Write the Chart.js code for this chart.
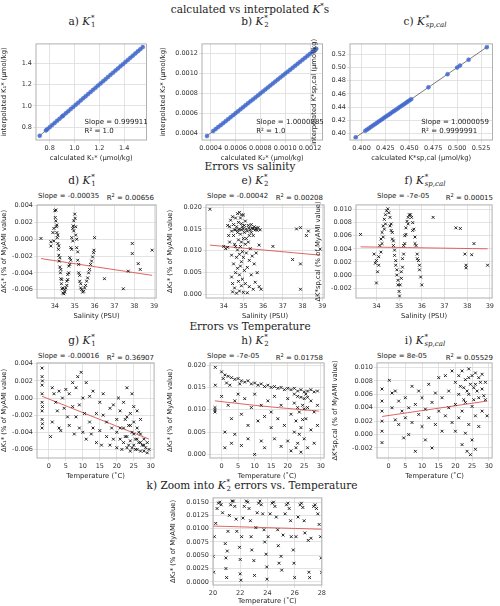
<!DOCTYPE html>
<html lang="en">
<head>
<meta charset="UTF-8">
<title>K* interpolation errors</title>
<script src="https://cdn.jsdelivr.net/npm/chart.js"></script>
<style>
    body { margin: 0; background: #fff; }
    #page { position: relative; width: 500px; height: 606px; overflow: hidden; font-family: 'DejaVu Serif', 'Liberation Serif', serif; }
    .ttl { position: absolute; font-size: 10.5px; color: #222; white-space: nowrap; transform: translateX(-50%); }
    .sub { position: absolute; font-size: 10.5px; color: #222; white-space: nowrap; transform: translateX(-50%); }
    .ss { display: inline-flex; flex-direction: column; vertical-align: middle; font-size: 7px; line-height: 7px; margin-left: 1px; }
    .stat { position: absolute; display: flex; justify-content: space-between; font-family: 'DejaVu Sans', sans-serif; font-size: 7px; color: #222; white-space: nowrap; }
    .box { position: absolute; }
</style>
</head>
<body>
<div id="page">
    <div class="ttl" style="left:250px;top:2px">calculated vs interpolated <i>K</i><sup style="font-size:7px">*</sup>s</div>
    <div class="sub" style="left:82px;top:15px">a) <i>K</i><span class="ss"><span>*</span><span>1</span></span></div>
    <div class="sub" style="left:255px;top:15px">b) <i>K</i><span class="ss"><span>*</span><span>2</span></span></div>
    <div class="sub" style="left:425px;top:15px">c) <i>K</i><span class="ss"><span>*</span><span><i>sp,cal</i></span></span></div>

    <div class="ttl" style="left:250px;top:160px">Errors vs salinity</div>
    <div class="sub" style="left:82px;top:174px">d) <i>K</i><span class="ss"><span>*</span><span>1</span></span></div>
    <div class="sub" style="left:255px;top:174px">e) <i>K</i><span class="ss"><span>*</span><span>2</span></span></div>
    <div class="sub" style="left:425px;top:174px">f) <i>K</i><span class="ss"><span>*</span><span><i>sp,cal</i></span></span></div>
    <div class="stat" style="left:38px;top:192px;width:116px"><span>Slope = -0.00035</span><span>R<sup style="font-size:5px">2</sup> = 0.00656</span></div>
    <div class="stat" style="left:207px;top:192px;width:116px"><span>Slope = -0.00042</span><span>R<sup style="font-size:5px">2</sup> = 0.00208</span></div>
    <div class="stat" style="left:377px;top:192px;width:116px"><span>Slope = -7e-05</span><span>R<sup style="font-size:5px">2</sup> = 0.00015</span></div>

    <div class="ttl" style="left:250px;top:320px">Errors vs Temperature</div>
    <div class="sub" style="left:82px;top:334px">g) <i>K</i><span class="ss"><span>*</span><span>1</span></span></div>
    <div class="sub" style="left:255px;top:334px">h) <i>K</i><span class="ss"><span>*</span><span>2</span></span></div>
    <div class="sub" style="left:425px;top:334px">i) <i>K</i><span class="ss"><span>*</span><span><i>sp,cal</i></span></span></div>
    <div class="stat" style="left:38px;top:352px;width:116px"><span>Slope = -0.00016</span><span>R<sup style="font-size:5px">2</sup> = 0.36907</span></div>
    <div class="stat" style="left:207px;top:352px;width:116px"><span>Slope = -7e-05</span><span>R<sup style="font-size:5px">2</sup> = 0.01758</span></div>
    <div class="stat" style="left:377px;top:352px;width:116px"><span>Slope = 8e-05</span><span>R<sup style="font-size:5px">2</sup> = 0.05529</span></div>

    <div class="ttl" style="left:252px;top:479px">k) Zoom into <i>K</i><span class="ss"><span>*</span><span>2</span></span> errors vs. Temperature</div>
</div>

<script>
// ---------- row 1: calculated vs interpolated ----------
const aCalc = [0.72,0.77,0.78,0.8,0.82,0.84,0.86,0.88,0.9,0.91,0.93,0.95,0.97,0.99,1.01,1.03,1.05,1.07,1.09,1.11,1.13,1.15,1.17,1.19,1.21,1.23,1.25,1.27,1.29,1.31,1.33,1.35,1.37,1.39,1.41,1.43,1.45,1.47,1.49,1.51,1.53,1.55];
const aInterp = [0.72,0.77,0.78,0.8,0.82,0.84,0.86,0.88,0.9,0.91,0.93,0.95,0.97,0.99,1.01,1.03,1.05,1.07,1.09,1.11,1.13,1.15,1.17,1.19,1.21,1.23,1.25,1.27,1.29,1.31,1.33,1.35,1.37,1.39,1.41,1.43,1.45,1.47,1.49,1.51,1.53,1.55];
const bCalc = [0.00037,0.00042,0.00044,0.00046,0.00048,0.0005,0.00052,0.00054,0.00056,0.00058,0.0006,0.00062,0.00064,0.00066,0.00068,0.0007,0.00072,0.00074,0.00076,0.00078,0.0008,0.00082,0.00084,0.00086,0.00088,0.0009,0.00092,0.00094,0.00096,0.00098,0.001,0.00102,0.00104,0.00106,0.00108,0.0011,0.00112,0.00114,0.00116,0.00118,0.0012,0.00122,0.00124,0.00125];
const bInterp = [0.00037,0.00042,0.00044,0.00046,0.00048,0.0005,0.00052,0.00054,0.00056,0.00058,0.0006,0.00062,0.00064,0.00066,0.00068,0.0007,0.00072,0.00074,0.00076,0.00078,0.0008,0.00082,0.00084,0.00086,0.00088,0.0009,0.00092,0.00094,0.00096,0.00098,0.001,0.00102,0.00104,0.00106,0.00108,0.0011,0.00112,0.00114,0.00116,0.00118,0.0012,0.00122,0.00124,0.00125];
const cCalc = [0.394,0.404,0.406,0.408,0.41,0.412,0.414,0.416,0.418,0.42,0.422,0.424,0.426,0.428,0.43,0.432,0.434,0.436,0.438,0.44,0.442,0.444,0.446,0.448,0.45,0.452,0.47,0.49,0.5,0.503,0.512,0.531];
const cInterp = [0.394,0.404,0.406,0.408,0.41,0.412,0.414,0.416,0.418,0.42,0.422,0.424,0.426,0.428,0.43,0.432,0.434,0.436,0.438,0.44,0.442,0.444,0.446,0.448,0.45,0.452,0.47,0.49,0.5,0.503,0.512,0.531];
const aOneToOne = [[0.71, 0.71], [1.56, 1.56]];
const bOneToOne = [[0.00036, 0.00036], [0.00126, 0.00126]];
const cOneToOne = [[0.392, 0.392], [0.533, 0.533]];

// ---------- row 2: errors vs salinity ----------
const dK1Sal = [[33.3,0.0001],[33.8,-0.0003],[33.8,-0.0008],[33.9,0.0008],[33.95,0.0013],[33.95,-0.0002],
  [34.0,0.0034],[34.02,0.0026],[34.05,0.0022],[34.08,0.0015],[34.1,0.0008],[34.12,0.0002],[34.15,-0.0005],[34.18,-0.0012],[34.2,-0.0019],[34.22,-0.0026],[34.25,-0.0033],[34.28,-0.004],[34.3,-0.0047],[34.33,-0.0053],[34.36,-0.0059],[34.4,-0.0064],[34.45,-0.0065],
  [34.05,0.0035],[34.1,0.0017],[34.15,0.0005],[34.2,-0.0008],[34.25,-0.0022],[34.3,-0.0036],[34.35,-0.0048],[34.4,-0.0058],
  [34.5,-0.0063],[34.55,-0.0058],[34.6,-0.005],[34.65,-0.0042],[34.7,-0.0032],[34.75,-0.0022],[34.8,-0.001],[34.85,0.0002],[34.9,0.0013],[34.95,0.0022],[35.0,0.003],
  [34.6,-0.0055],[34.7,-0.004],[34.8,-0.0025],[34.9,-0.0002],[34.95,0.001],[34.5,-0.006],[34.65,-0.0048],[34.75,-0.003],[34.85,-0.0012],[34.92,0.0016],
  [35.02,0.0025],[35.05,0.0015],[35.1,0.0],[35.15,-0.0015],[35.2,-0.003],[35.25,-0.0043],[35.3,-0.0053],[35.35,-0.006],[35.4,-0.0063],
  [35.05,0.0005],[35.1,-0.001],[35.15,-0.0025],[35.2,-0.004],[35.25,-0.005],[35.3,-0.0058],
  [35.45,-0.0062],[35.5,-0.0058],[35.6,-0.005],[35.7,-0.004],[35.8,-0.003],[35.9,-0.0021],[35.97,-0.0013],[35.55,-0.0055],[35.65,-0.0046],[35.75,-0.0036],[35.85,-0.0026],[35.95,-0.0016],
  [36.0,0.0002],[36.5,-0.0047],[37.45,-0.0059],[37.7,-0.0038],[37.9,-0.0005],[37.9,-0.0017],[38.2,-0.0029],[38.3,-0.0036],[38.9,-0.0013]];
const dFit = [[33.3,-0.0023],[38.9,-0.0043]];

const eK2Sal = [[33.3,0.0195],[34.0,0.011],[34.1,0.0105],[34.2,0.0108],[34.3,0.0155],[34.3,0.012],[34.35,0.017],[34.4,0.0145],[34.4,0.009],[34.4,0.004],[34.45,0.0025],[34.45,0.0006],[34.5,0.016],[34.5,0.0135],[34.5,0.007],[34.55,0.0148],[34.55,0.0015],[34.6,0.0175],[34.6,0.011],[34.6,0.005],[34.65,0.0155],[34.65,0.0085],[34.65,0.0003],[34.7,0.0185],[34.7,0.0142],[34.7,0.0102],[34.7,0.006],[34.75,0.0165],[34.75,0.0125],[34.75,0.003],[34.8,0.0188],[34.8,0.015],[34.8,0.0092],[34.8,0.0045],[34.8,0.0008],[34.85,0.0175],[34.85,0.0138],[34.85,0.011],[34.85,0.0065],[34.9,0.0162],[34.9,0.0148],[34.9,0.012],[34.9,0.0075],[34.9,0.002],[34.95,0.0155],[34.95,0.0098],[34.95,0.0035],[35.0,0.0182],[35.0,0.015],[35.0,0.0128],[35.0,0.0085],[35.0,0.0005],[35.05,0.0142],[35.05,0.0055],[35.1,0.0168],[35.1,0.0115],[35.1,0.0025],[35.15,0.015],[35.15,0.0095],[35.2,0.0145],[35.2,0.0062],[35.2,0.0004],[35.25,0.0158],[35.25,0.012],[35.3,0.0152],[35.3,0.0078],[35.3,0.0018],[35.35,0.0148],[35.35,0.0105],[35.4,0.016],[35.4,0.0045],[35.45,0.0152],[35.45,0.0088],[35.5,0.0135],[35.5,0.0012],[35.55,0.0155],[35.55,0.007],[35.6,0.0148],[35.6,0.0028],[35.65,0.0152],[35.65,0.0095],[35.7,0.0147],[35.7,0.005],[35.75,0.0153],[35.8,0.0113],[35.8,0.0018],[35.85,0.0148],[35.9,0.0012],
  [34.2,0.0158],[34.25,0.0135],[34.45,0.0178],[34.55,0.0115],[34.6,0.0148],[34.75,0.0148],[34.9,0.0182],[35.05,0.0158],[35.15,0.0128],[35.3,0.0135],[35.4,0.0142],[35.5,0.015],
  [36.5,0.011],[37.5,0.008],[37.7,0.015],[37.9,0.0153],[37.9,0.007],[37.9,0.0012],[38.2,0.0135],[38.3,0.0145],[38.9,0.0104]];
const eFit = [[33.3,0.0113],[38.9,0.009]];

const fKspSal = [[33.3,0.0062],[33.9,0.0032],[33.95,0.0018],[34.0,-0.0012],[34.0,0.0022],[34.05,0.0005],[34.1,0.0028],[34.15,0.0045],[34.2,0.0055],[34.25,0.0065],[34.3,0.0075],[34.35,0.0085],[34.4,0.0092],[34.45,0.0098],[34.5,0.0101],[34.2,0.0035],[34.3,0.0058],[34.4,0.0078],[34.1,0.0015],[34.25,0.0048],[34.35,0.007],
  [34.55,0.0095],[34.6,0.0088],[34.65,0.0078],[34.7,0.0065],[34.75,0.0052],[34.8,0.0038],[34.85,0.0022],[34.9,0.0008],[34.95,-0.0008],[35.0,-0.0025],[35.02,-0.0032],[34.6,0.0075],[34.7,0.0055],[34.8,0.003],[34.9,0.0],[34.65,0.0068],[34.75,0.0045],[34.85,0.0015],[34.95,-0.0015],
  [35.05,-0.0015],[35.1,0.0005],[35.15,0.0025],[35.2,0.0045],[35.25,0.006],[35.3,0.0072],[35.35,0.0082],[35.4,0.0088],[35.45,0.0092],[35.5,0.0092],[35.1,-0.0005],[35.2,0.0032],[35.3,0.0062],[35.4,0.0078],[35.15,0.0012],[35.25,0.0048],
  [35.55,0.0088],[35.6,0.008],[35.65,0.007],[35.7,0.0058],[35.75,0.0045],[35.8,0.0032],[35.85,0.0022],[35.9,0.0008],[35.95,-0.0003],[36.0,-0.0015],[35.6,0.0068],[35.7,0.0048],[35.8,0.0025],[35.9,0.0015],
  [36.5,0.0088],[37.5,0.0072],[37.7,0.0071],[37.9,0.0032],[37.95,0.0015],[37.95,0.0011],[38.2,0.0031],[38.3,0.0048],[38.9,0.0015]];
const fFit = [[33.3,0.0043],[38.9,0.004]];

// ---------- row 3: errors vs temperature ----------
const gK1Temp = [[-2,0.0035],[-2,0.0025],[-2,0.0015],[-2,0.0005],[-2,-0.0005],[-2,-0.0015],[-2,-0.0025],[-2,-0.0035],[-1.9,0.002],[-1.9,-0.001],[-1.9,-0.003],
  [1,0.0012],[1.5,0.0005],[2,-0.0005],[1,-0.0028],[0.5,-0.0045],[2.5,-0.0015],[3,0.0008],[3,-0.0035],[3.5,-0.0038],[4,0.0],[4.5,-0.0012],[5,0.001],[5.5,-0.0022],[6,0.0005],[6,-0.0032],[7,0.0018],[7,-0.001],[7.5,-0.0042],[8,0.0012],[8,-0.0022],[8.5,0.0025],[9,-0.0008],[9,-0.0035],[9.5,0.003],[10,0.0],[10,-0.004],[10.5,-0.0018],[11,0.0018],[11,-0.0048],[12,-0.0028],[12,0.0002],[12.5,-0.0042],[13,0.0008],[13,-0.0035],[14,-0.0018],[14,-0.0052],[15,-0.0005],[15,-0.0038],[15.5,-0.0055],[16,-0.002],[16,0.0005],[17,-0.0045],[17,-0.0028],[18,-0.0012],[18,-0.0055],[18.5,-0.0035],[19,-0.0048],[19,-0.0008],[20,-0.0025],[20,-0.0058],[20,-0.004],[20.5,0.0],[21,-0.0048],[21,-0.0015],[21.5,-0.006],[22,-0.0035],[22,-0.0052],[22,-0.0005],[22.5,-0.0025],[23,-0.0045],[23,-0.0058],[23,0.0012],[23.5,-0.0032],[24,-0.005],[24,-0.0018],[24,-0.0062],[24.5,0.0005],[24.5,-0.004],[25,-0.0055],[25,-0.0028],[25,-0.001],[25.5,-0.0048],[26,-0.006],[26,-0.0035],[26,-0.0015],[26.5,-0.0052],[27,-0.0042],[27,-0.0062],[27,-0.0025],[27.5,-0.0055],[28,-0.0048],[28,-0.0062],[28.5,-0.0058],[29,-0.0052],[29,-0.0064],[29.5,-0.006],
  [21,-0.0035],[22.5,-0.0045],[23.5,-0.0055],[24,-0.0032],[25,-0.0042],[26,-0.0048],[27,-0.0052],[28,-0.0055],[23,-0.0022],[25.5,-0.006],[26.5,-0.004],[24.5,-0.0058]];
const gFit = [[-2,0.0002],[29.5,-0.0048]];

const hK2Temp = [[-2,0.0095],[-2,0.01],[-2,0.0105],[-1.9,0.0155],[-1.9,0.0195],
  [0,0.0185],[0.5,0.017],[1,0.0178],[1.5,0.016],[2,0.0175],[2.5,0.0155],[3,0.0172],[4,0.0168],[5,0.017],[5.5,0.0158],[6,0.0165],[7,0.0162],[8,0.0165],[9,0.0158],[10,0.016],[11,0.0155],[12,0.0158],[13,0.0152],[14,0.0155],[15,0.015],[16,0.0152],[17,0.0148],[18,0.015],[19,0.0145],[20,0.0148],[21,0.0145],[22,0.0148],[23,0.0142],[24,0.0145],[25,0.014],[26,0.0142],[27,0.0145],[28,0.014],[29,0.0142],
  [0,0.013],[1,0.005],[1,0.0015],[2,0.011],[3,0.0025],[3,0.008],[4,0.012],[4,0.0045],[5,0.0135],[6,0.009],[6,0.002],[7,0.0125],[8,0.0065],[8,0.0035],[9,0.0105],[10,0.0],[10,0.0135],[11,0.0075],[12,0.011],[12,0.003],[13,0.0085],[13,0.0015],[14,0.012],[15,0.006],[15,0.0095],[16,0.013],[16,0.0035],[17,0.008],[18,0.011],[18,0.0018],[19,0.0065],[20,0.0125],[20,0.003],[21,0.009],[21,0.0008],[22,0.0115],[22,0.005],[22.5,0.0075],[23,0.013],[23,0.0025],[23.5,0.0095],[24,0.006],[24,0.0005],[24.5,0.011],[25,0.0035],[25,0.0125],[25.5,0.008],[26,0.0015],[26,0.0105],[27,0.0055],[27,0.012],[28,0.0025],[28,0.0095],[29,0.0065],[29,0.011],
  [22,0.0135],[23,0.0105],[24,0.0128],[25,0.0102],[26,0.0128],[23.5,0.0045],[24.5,0.0078],[25.5,0.0135],[22.5,0.0015]];
const hFit = [[-2,0.012],[10,0.011],[20,0.0103],[29.5,0.0097]];

const iKspTemp = [[-2,0.0068],[-2,0.005],[-2,0.0035],[-2,0.002],[-2,0.0005],[-2,-0.0012],[0.2,0.0081],
  [1,0.0062],[2,0.0065],[1,0.004],[2,0.0022],[3,0.005],[3,0.0015],[4,0.0035],[4.5,-0.0005],[5,0.0055],[5,0.0025],[6,0.004],[6,0.0],[7,0.0072],[7,0.0018],[8,0.0045],[8,-0.0025],[9,0.003],[9,0.0065],[10,0.0012],[10,0.0055],[11,0.0038],[11,-0.0008],[12,0.0075],[12,0.0025],[13,-0.002],[13,0.0048],[14,0.0062],[14,0.0015],[15,0.0035],[15,0.0085],[16,0.0005],[16,0.0055],[17,0.0088],[17,0.0028],[18,0.0065],[18,0.004],[19,0.0095],[19,0.0018],[20,0.0078],[20,0.0045],[20,0.0005],[21,0.0088],[21,0.006],[21,0.0025],[22,0.0095],[22,0.0035],[22,-0.0015],[22.5,0.007],[23,0.0082],[23,0.0048],[23,0.0002],[23.5,-0.0025],[24,0.0098],[24,0.006],[24,0.0015],[24.5,-0.003],[25,0.0088],[25,0.0042],[25,-0.0008],[25.5,0.007],[26,0.0092],[26,0.0028],[26,-0.0022],[27,0.0085],[27,0.0055],[27,0.0012],[28,0.009],[28,0.0068],[28,0.0035],[29,0.0078],[29,0.0052],[29.5,0.0028],
  [21.5,0.0072],[22.5,0.0052],[23.5,0.0065],[24.5,0.0075],[25.5,0.0052],[26.5,0.0065],[27.5,0.0078],[28.5,0.0058],[24,0.0085],[26,0.0075]];
const iFit = [[-2,0.0027],[29.5,0.005]];

// ---------- row 4: zoom into K2* vs temperature ----------
const kK2Zoom = [[20.02,0.0048],[20.05,0.0018],[20.1,0.0085],[20.2,0.011],[20.3,0.0138],[20.4,0.0148],[20.5,0.015],[20.6,0.0145],[20.7,0.013],
  [20.9,0.0072],[20.95,0.0045],[20.95,0.0025],[21.0,0.0008],[21.05,0.0058],[21.1,0.0095],[21.2,0.0125],[21.3,0.0145],[21.4,0.0152],[21.5,0.0152],[21.6,0.0142],[21.7,0.0118],[21.75,0.0095],
  [21.95,0.0065],[22.0,0.0042],[22.0,0.0015],[22.05,0.0003],[22.1,0.0085],[22.2,0.012],[22.3,0.0142],[22.45,0.0152],[22.55,0.015],[22.65,0.0138],[22.75,0.0115],[22.8,0.0085],[22.85,0.006],
  [23.0,0.004],[23.05,0.0012],[23.15,0.0102],[23.25,0.013],[23.35,0.0148],[23.45,0.0152],[23.55,0.0145],[23.65,0.0128],[23.75,0.0098],[23.8,0.0075],
  [23.9,0.0052],[23.95,0.0028],[23.97,0.0005],[24.05,0.0085],[24.2,0.0128],[24.35,0.0148],[24.45,0.015],[24.55,0.0142],[24.65,0.0122],[24.75,0.0098],[24.8,0.0068],[24.85,0.0035],
  [25.0,0.0048],[25.05,0.0022],[25.15,0.0088],[25.3,0.0128],[25.4,0.0145],[25.5,0.0148],[25.6,0.0138],[25.7,0.0115],[25.75,0.0085],
  [25.9,0.006],[25.95,0.0035],[26.0,0.0008],[26.1,0.0085],[26.25,0.0122],[26.4,0.0145],[26.5,0.0148],[26.6,0.014],[26.7,0.0115],[26.75,0.0092],
  [27.0,0.0078],[27.05,0.0018],[27.1,0.0008],[27.2,0.0082],[27.4,0.0142],[27.5,0.0145],[27.6,0.0138],[27.7,0.0128],[27.8,0.0108],[27.9,0.0085],[27.95,0.0045],[27.98,0.0018]];
const kFit = [[20,0.0105],[28,0.0099]];

// tick labels
const rowTempTicks = [0, 5, 10, 15, 20, 25, 30];
const salTicks = [34, 35, 36, 37, 38, 39];

const FONT = { family: "'DejaVu Sans', sans-serif", size: 6.5 };
const GRID = '#dcdcdc';

// frame around each plot area and optional in-plot annotation
const framePlugin = {
    id: 'frame',
    afterDraw(chart) {
        const { ctx, chartArea: a } = chart;
        ctx.save();
        ctx.strokeStyle = '#b0b0b0';
        ctx.lineWidth = 1;
        ctx.strokeRect(a.left, a.top, a.right - a.left, a.bottom - a.top);
        const note = chart.options.plugins.note;
        if (note) {
            ctx.fillStyle = '#222';
            ctx.font = "7px 'DejaVu Sans', sans-serif";
            const x = a.left + (a.right - a.left) * note.fx;
            const y = a.top + (a.bottom - a.top) * note.fy;
            ctx.fillText(note.l1, x, y);
            ctx.fillText(note.l2, x, y + 9);
        }
        ctx.restore();
    }
};

function makeAxis(cfg, isY) {
    return {
        type: 'linear',
        min: cfg.min, max: cfg.max,
        afterBuildTicks: axis => { axis.ticks = cfg.ticks.map(v => ({ value: v })); },
        afterFit: axis => { if (isY) axis.width = cfg.size; else axis.height = cfg.size; },
        grid: { color: GRID, lineWidth: 0.8, drawTicks: true, tickLength: 3 },
        border: { display: false },
        ticks: { font: FONT, color: '#333', padding: 1, autoSkip: false, maxRotation: 0,
                 callback: v => cfg.fmt ? v.toFixed(cfg.fmt) : v },
        title: { display: true, text: cfg.title, font: { family: "'DejaVu Sans', sans-serif", size: 6.8 }, color: '#222', padding: 0 }
    };
}

function panel(left, top, w, h, yw, xh, datasets, xCfg, yCfg, note) {
    const box = document.createElement('div');
    box.className = 'box';
    box.style.left = (left - yw) + 'px';
    box.style.top = (top - 4) + 'px';
    box.style.width = (w + yw + 4) + 'px';
    box.style.height = (h + xh + 4) + 'px';
    const cv = document.createElement('canvas');
    box.appendChild(cv);
    document.getElementById('page').appendChild(box);
    xCfg.size = xh; yCfg.size = yw;
    new Chart(cv, {
        type: 'scatter',
        data: { datasets },
        options: {
            responsive: true, maintainAspectRatio: false, animation: false,
            layout: { padding: { top: 4, right: 4, left: 0, bottom: 0 } },
            plugins: { legend: { display: false }, tooltip: { enabled: false }, note },
            scales: { x: makeAxis(xCfg, false), y: makeAxis(yCfg, true) }
        },
        plugins: [framePlugin]
    });
}

const toPts = arr => arr.map(p => ({ x: p[0], y: p[1] }));
const zipPts = (xs, ys) => xs.map((x, i) => ({ x, y: ys[i] }));
const crosses = arr => ({ data: toPts(arr), pointStyle: 'crossRot', pointRadius: 2, borderColor: '#111', borderWidth: 0.9 });
const blue = pts => ({ data: pts, pointStyle: 'circle', pointRadius: 2, backgroundColor: 'rgba(65,105,205,0.85)', borderColor: 'rgba(65,105,205,0.9)', borderWidth: 0.5 });
const fitLine = (arr, color, width) => ({ data: toPts(arr), showLine: true, pointRadius: 0, borderColor: color, borderWidth: width, tension: 0.3 });

// row 1
panel(36, 43, 111, 97, 36, 22,
    [blue(zipPts(aCalc, aInterp)), fitLine(aOneToOne, '#222', 0.6)],
    { min: 0.69, max: 1.58, ticks: [0.8, 1.0, 1.2, 1.4], fmt: 1, title: 'calculated K\u2081* (\u03bcmol/kg)' },
    { min: 0.68, max: 1.58, ticks: [0.8, 1.0, 1.2, 1.4], fmt: 1, title: 'interpolated K\u2081* (\u03bcmol/kg)' },
    { fx: 0.44, fy: 0.83, l1: 'Slope = 0.999911', l2: 'R\u00b2 = 1.0' });
panel(202, 43, 121, 97, 43, 22,
    [blue(zipPts(bCalc, bInterp)), fitLine(bOneToOne, '#222', 0.6)],
    { min: 0.00033, max: 0.0013, ticks: [0.0004, 0.0006, 0.0008, 0.001, 0.0012], fmt: 4, title: 'calculated K\u2082* (\u03bcmol/kg)' },
    { min: 0.00033, max: 0.0013, ticks: [0.0004, 0.0006, 0.0008, 0.001, 0.0012], fmt: 4, title: 'interpolated K\u2082* (\u03bcmol/kg)' },
    { fx: 0.45, fy: 0.83, l1: 'Slope = 1.0000885', l2: 'R\u00b2 = 1.0' });
panel(350, 43, 143, 97, 40, 22,
    [blue(zipPts(cCalc, cInterp)), fitLine(cOneToOne, '#222', 0.6)],
    { min: 0.388, max: 0.537, ticks: [0.4, 0.425, 0.45, 0.475, 0.5, 0.525], fmt: 3, title: 'calculated K*sp,cal (\u03bcmol/kg)' },
    { min: 0.39, max: 0.536, ticks: [0.4, 0.42, 0.44, 0.46, 0.48, 0.5, 0.52], fmt: 2, title: 'interpolated K*sp,cal (\u03bcmol/kg)' },
    { fx: 0.5, fy: 0.83, l1: 'Slope = 1.0000059', l2: 'R\u00b2 = 0.9999991' });

// row 2
panel(37, 204, 120, 94, 37, 22,
    [crosses(dK1Sal), fitLine(dFit, '#d9534f', 0.9)],
    { min: 33.1, max: 39.1, ticks: salTicks, title: 'Salinity (PSU)' },
    { min: -0.007, max: 0.0041, ticks: [-0.006, -0.004, -0.002, 0, 0.002, 0.004], fmt: 3, title: '\u0394K\u2081* (% of MyAMI value)' });
panel(206, 204, 119, 94, 40, 22,
    [crosses(eK2Sal), fitLine(eFit, '#d9534f', 0.9)],
    { min: 33.1, max: 39.1, ticks: salTicks, title: 'Salinity (PSU)' },
    { min: -0.0008, max: 0.0205, ticks: [0, 0.005, 0.01, 0.015, 0.02], fmt: 3, title: '\u0394K\u2082* (% of MyAMI value)' });
panel(356, 204, 137, 94, 42, 22,
    [crosses(fKspSal), fitLine(fFit, '#d9534f', 0.9)],
    { min: 33.1, max: 39.1, ticks: salTicks, title: 'Salinity (PSU)' },
    { min: -0.0035, max: 0.0107, ticks: [-0.002, 0, 0.002, 0.004, 0.006, 0.008, 0.01], fmt: 3, title: '\u0394K*sp,cal (% of MyAMI value)' });

// row 3
panel(37, 362, 118, 96, 37, 22,
    [crosses(gK1Temp), fitLine(gFit, '#d9534f', 0.9)],
    { min: -3.5, max: 31, ticks: rowTempTicks, title: 'Temperature (\u02daC)' },
    { min: -0.007, max: 0.0041, ticks: [-0.006, -0.004, -0.002, 0, 0.002, 0.004], fmt: 3, title: '\u0394K\u2081* (% of MyAMI value)' });
panel(210, 362, 115, 96, 44, 22,
    [crosses(hK2Temp), fitLine(hFit, '#d9534f', 0.9)],
    { min: -3.5, max: 31, ticks: rowTempTicks, title: 'Temperature (\u02daC)' },
    { min: -0.0008, max: 0.0205, ticks: [0, 0.005, 0.01, 0.015, 0.02], fmt: 3, title: '\u0394K\u2082* (% of MyAMI value)' });
panel(377, 362, 116, 96, 46, 22,
    [crosses(iKspTemp), fitLine(iFit, '#d9534f', 0.9)],
    { min: -3.5, max: 31, ticks: rowTempTicks, title: 'Temperature (\u02daC)' },
    { min: -0.0035, max: 0.0107, ticks: [-0.002, 0, 0.002, 0.004, 0.006, 0.008, 0.01], fmt: 3, title: '\u0394K*sp,cal (% of MyAMI value)' });

// row 4
panel(213, 497, 110, 88, 44, 20,
    [crosses(kK2Zoom), fitLine(kFit, '#d9534f', 0.9)],
    { min: 20, max: 28, ticks: [20, 22, 24, 26, 28], title: 'Temperature (\u02daC)' },
    { min: -0.0006, max: 0.0158, ticks: [0, 0.0025, 0.005, 0.0075, 0.01, 0.0125, 0.015], fmt: 4, title: '\u0394K\u2082* (% of MyAMI value)' });
</script>
</body>
</html>
